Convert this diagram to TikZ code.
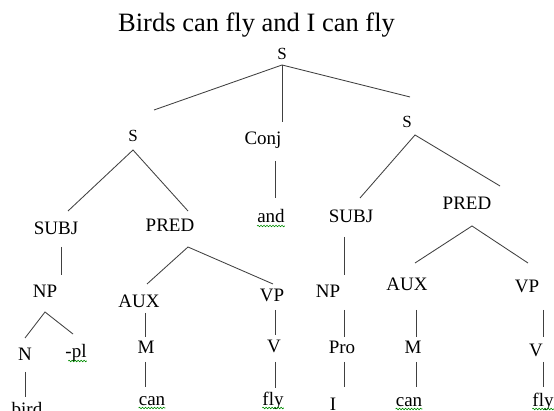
\documentclass[tikz,border=0pt]{standalone}
\usepackage{fontspec}
\setmainfont{Liberation Serif}
\usetikzlibrary{decorations.pathmorphing}
\begin{document}
\begin{tikzpicture}[x=1pt,y=-1pt,
  lbl/.style={inner sep=0pt, anchor=base, font=\fontsize{19}{22}\selectfont},
  slbl/.style={inner sep=0pt, anchor=base, font=\fontsize{17}{20}\selectfont},
  edge/.style={draw=black!75, line width=0.85pt},
  squig/.style={draw=green!55!black, line width=0.6pt, decorate,
    decoration={snake, amplitude=0.8pt, segment length=3pt}}]
\useasboundingbox (0,0) rectangle (554,411);
\clip (0,0) rectangle (554,411);
% title
\node[inner sep=0pt, anchor=base west, font=\fontsize{26.5}{30}\selectfont] (title) at (118,32) {Birds can fly and I can fly};
% labels
\node[slbl] (S0) at (282,60) {S};
\node[slbl] (S1) at (133,142) {S};
\node[lbl] (conj) at (263,145) {Conj};
\node[slbl] (S2) at (407,128) {S};
\node[lbl] (subj1) at (56,235) {SUBJ};
\node[lbl] (pred1) at (170,232) {PRED};
\node[lbl] (and) at (271,223) {and};
\node[lbl] (subj2) at (351,223) {SUBJ};
\node[lbl] (pred2) at (467,210) {PRED};
\node[lbl] (np1) at (45,298) {NP};
\node[lbl] (aux1) at (139,308) {AUX};
\node[lbl] (vp1) at (272,302) {VP};
\node[lbl] (n1) at (25,360) {N};
\node[lbl] (pl) at (76,358) {-pl};
\node[lbl] (m1) at (146,354) {M};
\node[lbl] (v1) at (274,353) {V};
\node[lbl] (bird) at (27,415) {bird};
\node[lbl] (can1) at (152,405) {can};
\node[lbl] (fly1) at (273,405) {fly};
\node[lbl] (np2) at (328,298) {NP};
\node[lbl] (aux2) at (407,291) {AUX};
\node[lbl] (vp2) at (527,293) {VP};
\node[lbl] (pro) at (342,354) {Pro};
\node[lbl] (m2) at (413,354) {M};
\node[lbl] (v2) at (536,357) {V};
\node[lbl] (I) at (333,410) {I};
\node[lbl] (can2) at (409,406) {can};
\node[lbl] (fly2) at (543,406) {fly};
% connector end points
\coordinate (s0a) at (282,65);
\coordinate (s0l) at (154,110);
\coordinate (s0d) at (282,122);
\coordinate (s0r) at (410,97);
\coordinate (s1a) at (133,150);
\coordinate (s1l) at (68,211);
\coordinate (s1r) at (188,211);
\coordinate (cjt) at (275,161);
\coordinate (cjb) at (275,198);
\coordinate (s2a) at (415,135);
\coordinate (s2l) at (360,198);
\coordinate (s2r) at (500,186);
\coordinate (sb1t) at (61,247);
\coordinate (sb1b) at (61,275);
\coordinate (p1a) at (188,247);
\coordinate (p1l) at (147,284);
\coordinate (p1r) at (273,284);
\coordinate (np1a) at (45,312);
\coordinate (np1l) at (25,338);
\coordinate (np1r) at (73,334);
\coordinate (n1t) at (25,372);
\coordinate (n1b) at (25,397);
\coordinate (a1t) at (145,313);
\coordinate (a1b) at (145,337);
\coordinate (m1t) at (145,362);
\coordinate (m1b) at (145,387);
\coordinate (vp1t) at (275,310);
\coordinate (vp1b) at (275,335);
\coordinate (v1t) at (275,362);
\coordinate (v1b) at (275,388);
\coordinate (sb2t) at (344,237);
\coordinate (sb2b) at (344,275);
\coordinate (np2t) at (344,310);
\coordinate (np2b) at (344,337);
\coordinate (prot) at (344,362);
\coordinate (prob) at (344,387);
\coordinate (p2a) at (472,226);
\coordinate (p2l) at (415,263);
\coordinate (p2r) at (528,263);
\coordinate (a2t) at (416,310);
\coordinate (a2b) at (416,337);
\coordinate (m2t) at (416,362);
\coordinate (m2b) at (416,387);
\coordinate (vp2t) at (543,310);
\coordinate (vp2b) at (543,337);
\coordinate (v2t) at (543,362);
\coordinate (v2b) at (543,387);
% connectors
\draw[edge] (s0l) -- (s0a) -- (s0r);
\draw[edge] (s0a) -- (s0d);
\draw[edge] (s1l) -- (s1a) -- (s1r);
\draw[edge] (cjt) -- (cjb);
\draw[edge] (s2l) -- (s2a) -- (s2r);
\draw[edge] (sb1t) -- (sb1b);
\draw[edge] (p1l) -- (p1a) -- (p1r);
\draw[edge] (np1l) -- (np1a) -- (np1r);
\draw[edge] (n1t) -- (n1b);
\draw[edge] (a1t) -- (a1b);
\draw[edge] (m1t) -- (m1b);
\draw[edge] (vp1t) -- (vp1b);
\draw[edge] (v1t) -- (v1b);
\draw[edge] (sb2t) -- (sb2b);
\draw[edge] (np2t) -- (np2b);
\draw[edge] (prot) -- (prob);
\draw[edge] (p2l) -- (p2a) -- (p2r);
\draw[edge] (a2t) -- (a2b);
\draw[edge] (m2t) -- (m2b);
\draw[edge] (vp2t) -- (vp2b);
\draw[edge] (v2t) -- (v2b);
% spell-check squiggles
\draw[squig] ([yshift=-3pt]and.base west) -- ([yshift=-3pt]and.base east);
\draw[squig] ([yshift=-3pt,xshift=3pt]pl.base west) -- ([yshift=-3pt]pl.base east);
\draw[squig] ([yshift=-3pt]can1.base west) -- ([yshift=-3pt]can1.base east);
\draw[squig] ([yshift=-3pt]fly1.base west) -- ([yshift=-3pt]fly1.base east);
\draw[squig] ([yshift=-3pt]can2.base west) -- ([yshift=-3pt]can2.base east);
\draw[squig] ([yshift=-3pt]fly2.base west) -- ([yshift=-3pt]fly2.base east);
\end{tikzpicture}
\end{document}
